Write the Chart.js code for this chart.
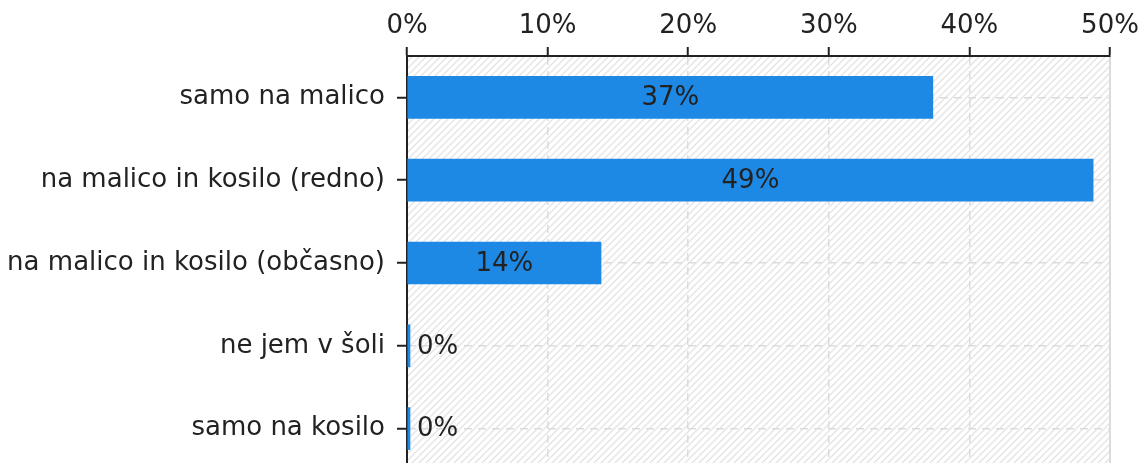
<!DOCTYPE html>
<html>
<head>
<meta charset="utf-8">
<script src="https://cdn.jsdelivr.net/npm/chart.js@4.4.1/dist/chart.umd.min.js"></script>
<style>
  html, body { margin: 0; padding: 0; background: #fff; overflow: hidden; }
  #wrap { width: 1142px; height: 470px; position: relative; }
</style>
</head>
<body>
<div id="wrap"><canvas id="chart"></canvas></div>
<script>
const categories = [
  'samo na malico',
  'na malico in kosilo (redno)',
  'na malico in kosilo (občasno)',
  'ne jem v šoli',
  'samo na kosilo'
];
const shares = [37.4, 48.8, 13.8, 0, 0];
const axisMax = 50;
const axisStep = 10;

const FONT = '"DejaVu Sans", Verdana, sans-serif';
const FONT_SIZE = 26;
const TEXT = '#222';
const GRID = '#dcdcdc';

// diagonal hatch used behind the bars
function makeHatch(ctx) {
  const size = 7;
  const c = document.createElement('canvas');
  c.width = c.height = size;
  const g = c.getContext('2d');
  g.fillStyle = '#fff';
  g.fillRect(0, 0, size, size);
  g.strokeStyle = '#e4e4e4';
  g.lineWidth = 1.4;
  g.beginPath();
  g.moveTo(0, size); g.lineTo(size, 0);
  g.moveTo(-2, 2); g.lineTo(2, -2);
  g.moveTo(size - 2, size + 2); g.lineTo(size + 2, size - 2);
  g.stroke();
  return ctx.createPattern(c, 'repeat');
}

const plotBackground = {
  id: 'plotBackground',
  beforeDraw(chart) {
    const {ctx, chartArea: a} = chart;
    ctx.save();
    ctx.fillStyle = makeHatch(ctx);
    ctx.fillRect(a.left, a.top, a.right - a.left, a.bottom - a.top);
    ctx.strokeStyle = GRID;
    ctx.lineWidth = 2;
    ctx.beginPath();
    ctx.moveTo(a.right, a.top);
    ctx.lineTo(a.right, a.bottom);
    ctx.stroke();
    ctx.restore();
  }
};

const barLabels = {
  id: 'barLabels',
  afterDatasetsDraw(chart) {
    const ctx = chart.ctx;
    const meta = chart.getDatasetMeta(0);
    ctx.save();
    ctx.font = FONT_SIZE + 'px ' + FONT;
    ctx.fillStyle = TEXT;
    ctx.textBaseline = 'middle';
    meta.data.forEach((bar, i) => {
      const {x, y, base} = bar.getProps(['x', 'y', 'base'], true);
      const text = Math.round(shares[i]) + '%';
      if (x - base > 80) {
        ctx.textAlign = 'center';
        ctx.fillText(text, (x + base) / 2, y + 1);
      } else {
        ctx.textAlign = 'left';
        ctx.fillText(text, x + 7, y + 1);
      }
    });
    ctx.restore();
  }
};

new Chart(document.getElementById('chart'), {
  type: 'bar',
  data: {
    labels: categories,
    datasets: [{
      data: shares,
      backgroundColor: '#1e88e5',
      borderWidth: 0,
      barThickness: 42,
      minBarLength: 3
    }]
  },
  options: {
    indexAxis: 'y',
    responsive: true,
    maintainAspectRatio: false,
    animation: false,
    layout: { padding: { top: 0, right: 32, bottom: 0, left: 0 } },
    plugins: {
      legend: { display: false },
      tooltip: { enabled: false }
    },
    scales: {
      x: {
        position: 'top',
        min: 0,
        max: axisMax,
        afterFit: s => {
          s.height = 56;
          s.paddingLeft = 0;
          s.paddingRight = 0;
        },
        ticks: {
          stepSize: axisStep,
          color: TEXT,
          font: { family: FONT, size: FONT_SIZE },
          padding: 5,
          callback: v => v + '%'
        },
        grid: {
          color: GRID,
          lineWidth: 1.5,
          tickColor: TEXT,
          tickLength: 9,
          tickWidth: 2,
          tickBorderDash: []
        },
        border: { color: TEXT, width: 2, dash: [8, 6] }
      },
      y: {
        afterFit: s => {
          s.width = 407;
          s.paddingTop = 0;
          s.paddingBottom = 0;
        },
        ticks: {
          color: TEXT,
          font: { family: FONT, size: FONT_SIZE },
          padding: 12
        },
        grid: {
          offset: false,
          color: GRID,
          lineWidth: 1.5,
          tickColor: TEXT,
          tickLength: 10,
          tickWidth: 2,
          tickBorderDash: []
        },
        border: { color: TEXT, width: 2, dash: [8, 6] }
      }
    }
  },
  plugins: [plotBackground, barLabels]
});
</script>
</body>
</html>
